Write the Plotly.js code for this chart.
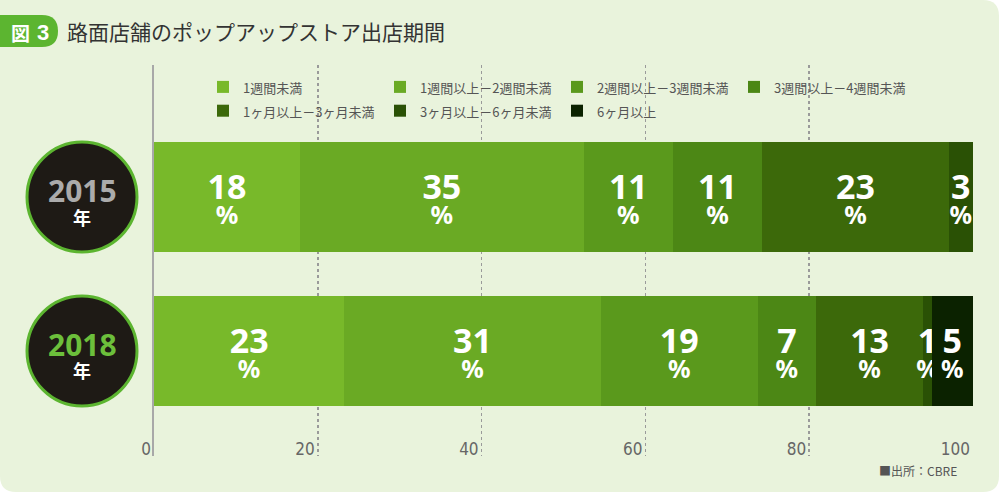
<!DOCTYPE html>
<html>
<head>
<meta charset="utf-8">
<script src="https://cdn.plot.ly/plotly-3.0.1.min.js"></script>
<style>
  html, body { margin: 0; padding: 0; background: #ffffff; }
  #chart { width: 1000px; height: 500px; }
</style>
</head>
<body>
<div id="chart"></div>
<script>
// ---- data ----
const years = ['2015年', '2018年'];
const categories = [
  '1週間未満',
  '1週間以上－2週間未満',
  '2週間以上－3週間未満',
  '3週間以上－4週間未満',
  '1ヶ月以上－3ヶ月未満',
  '3ヶ月以上－6ヶ月未満',
  '6ヶ月以上'
];
const values2015 = [18, 35, 11, 11, 23, 3, 0];
const values2018 = [23, 31, 19, 7, 13, 1, 5];
const xTicks = [0, 20, 40, 60, 80, 100];
const colors = ['#78b92a', '#6aaa24', '#5a991c', '#4c8715', '#3c690a', '#2a5105', '#0b2200'];

// ---- layout geometry (pixels) ----
const L = 154, R = 973, T = 65, B = 456;
const W = R - L, H = B - T;
const px2x = p => (p - L) / W;
const px2y = p => (B - p) / H;

const FONT = '"Noto Sans CJK JP", "Noto Sans", sans-serif';
const NUMFONT = '"Noto Sans", "Open Sans", sans-serif';

const label = v => v > 0
  ? '<span style="font-size:34px">' + v + '</span><br><span style="font-size:25px">%</span>'
  : '';

const traces = categories.map((name, i) => {
  const vals = [values2015[i], values2018[i]];
  return {
    type: 'bar',
    orientation: 'h',
    name: '<span style="font-size:13px">' + name + '</span>',
    y: years,
    x: vals,
    marker: { color: colors[i], line: { width: 0 } },
    text: vals.map(label),
    textposition: 'inside',
    insidetextanchor: 'middle',
    constraintext: 'none',
    textangle: 0,
    textfont: { family: NUMFONT, size: 19, color: '#ffffff', weight: 'bold' },
    hoverinfo: 'skip'
  };
});

const bgPath = 'M ' + (0 - L) + ',' + (B - 0) +
  ' H ' + (983 - L) +
  ' Q ' + (999 - L) + ',' + (B - 0) + ' ' + (999 - L) + ',' + (B - 16) +
  ' V ' + (B - 476) +
  ' Q ' + (999 - L) + ',' + (B - 492) + ' ' + (983 - L) + ',' + (B - 492) +
  ' H ' + (16 - L) +
  ' Q ' + (0 - L) + ',' + (B - 492) + ' ' + (0 - L) + ',' + (B - 476) + ' Z';

const badgePath = 'M ' + (0 - L) + ',' + (B - 15) +
  ' H ' + (42 - L) +
  ' Q ' + (58 - L) + ',' + (B - 15) + ' ' + (58 - L) + ',' + (B - 31) +
  ' Q ' + (58 - L) + ',' + (B - 47) + ' ' + (42 - L) + ',' + (B - 47) +
  ' H ' + (0 - L) + ' Z';

const circle = (cy) => ({
  type: 'circle', layer: 'above',
  xref: 'paper', yref: 'paper',
  xsizemode: 'pixel', ysizemode: 'pixel',
  xanchor: px2x(82), yanchor: px2y(cy),
  x0: -55, x1: 55, y0: -55, y1: 55,
  fillcolor: '#1e1a15',
  line: { color: '#5cb530', width: 3 }
});

const ann = (text, px, py, size, color, weight, family, xanchor) => ({
  xref: 'paper', yref: 'paper',
  x: px2x(px), y: px2y(py),
  xanchor: xanchor || 'center', yanchor: 'middle',
  text: text, showarrow: false,
  font: { family: family || FONT, size: size, color: color, weight: weight || 'normal' }
});

const layout = {
  width: 1000, height: 500,
  margin: { l: L, r: 1000 - R, t: T, b: 500 - B, pad: 0 },
  paper_bgcolor: '#ffffff',
  plot_bgcolor: 'rgba(0,0,0,0)',
  font: { family: FONT, color: '#555555' },
  barmode: 'stack',
  barnorm: 'percent',
  bargap: 0.286,
  showlegend: true,
  title: {
    text: '路面店舗のポップアップストア出店期間',
    xref: 'container', yref: 'container',
    x: 67 / 1000, xanchor: 'left',
    y: 1 - 33 / 500, yanchor: 'middle',
    font: { family: FONT, size: 21, color: '#333333' }
  },
  legend: {
    orientation: 'h',
    x: px2x(203), xanchor: 'left',
    y: px2y(70), yanchor: 'top',
    bgcolor: 'rgba(0,0,0,0)',
    font: { family: FONT, size: 16, color: '#555555' },
    entrywidth: 132,
    entrywidthmode: 'pixels',
    traceorder: 'normal'
  },
  xaxis: {
    range: [0, 100],
    tickvals: xTicks,
    ticktext: xTicks.map(String),
    showgrid: true,
    gridcolor: '#9a9a9a',
    gridwidth: 1.5,
    griddash: 'dot',
    zeroline: false,
    showline: false,
    ticks: '',
    ticklabelposition: 'inside left',
    ticklabeloverflow: 'allow',
    ticklabelstandoff: -8,
    ticklabelshift: -3,
    tickfont: { family: '"Liberation Sans Narrow", "DejaVu Sans Condensed", Roboto, sans-serif', size: 17, color: '#666666' },
    fixedrange: true
  },
  yaxis: {
    type: 'category',
    categoryorder: 'array',
    categoryarray: years,
    range: [1.682, -0.857],
    showticklabels: false,
    showgrid: false,
    zeroline: false,
    showline: true,
    linecolor: '#a8a8a8',
    linewidth: 2.5,
    ticks: '',
    fixedrange: true
  },
  shapes: [
    { type: 'path', layer: 'below', xref: 'paper', yref: 'paper',
      xsizemode: 'pixel', ysizemode: 'pixel', xanchor: 0, yanchor: 0,
      path: bgPath, fillcolor: '#e9f3dc', line: { width: 0 } },
    { type: 'path', layer: 'above', xref: 'paper', yref: 'paper',
      xsizemode: 'pixel', ysizemode: 'pixel', xanchor: 0, yanchor: 0,
      path: badgePath, fillcolor: '#5cb530', line: { width: 0 } },
    circle(197),
    circle(351)
  ],
  annotations: [
    ann('図', 20, 32, 19, '#ffffff', 'bold'),
    ann('3', 43, 32, 22, '#ffffff', 'bold', '"Liberation Sans", Arial, sans-serif'),
    ann('2015', 82, 190, 30, '#ababab', 'bold', NUMFONT),
    ann('年', 82, 217, 18, '#ffffff', 'bold'),
    ann('2018', 82, 344, 30, '#6cbf3b', 'bold', NUMFONT),
    ann('年', 82, 370, 18, '#ffffff', 'bold'),
    ann('■出所：CBRE', 959, 470, 12, '#555555', 'normal', FONT, 'right')
  ]
};

Plotly.newPlot('chart', traces, layout, { displayModeBar: false, staticPlot: true });
</script>
</body>
</html>
